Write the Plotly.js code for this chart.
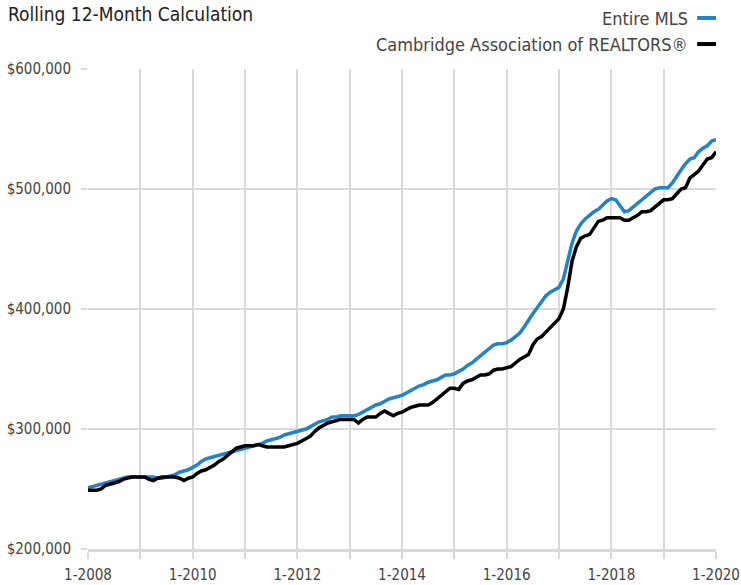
<!DOCTYPE html>
<html>
<head>
<meta charset="utf-8">
<script src="https://cdn.plot.ly/plotly-3.0.1.min.js"></script>
<style>html,body{margin:0;padding:0;background:#fff;}#chart{width:741px;height:585px;}</style>
</head>
<body>
<div id="chart"></div>
<script>
// Monthly, January 2008 .. January 2020 (values in thousands of dollars)
const startYear = 2008;
const seriesNames = ["Entire MLS", "Cambridge Association of REALTORS®"];
const entireMLS = [
  251,252,253,254,255,256,257,258,259,260,260,260,
  260,260,260,260,259,259,260,261,262,264,265,266,
  268,270,273,275,276,277,278,279,280,281,282,283,
  284,285,286,287,288,290,291,292,293,295,296,297,
  298,299,300,302,304,306,307,308,310,310,311,311,
  311,311,312,314,316,318,320,321,323,325,326,327,
  328,330,332,334,336,337,339,340,341,343,345,345,
  346,348,350,353,355,358,361,364,367,370,371,371,
  372,374,377,380,385,391,396,401,406,411,414,416,
  418,425,440,455,465,471,475,478,481,483,487,490,
  492,491,486,481,482,485,488,491,494,497,500,501,
  501,501,505,511,516,521,525,526,531,534,536,540,
  541
];
const cambridge = [
  249,249,249,250,253,254,255,256,258,259,260,260,
  260,260,258,257,259,260,260,260,260,259,257,259,
  260,263,265,266,268,270,273,275,278,281,284,285,
  286,286,286,287,286,285,285,285,285,285,286,287,
  288,290,292,294,298,301,303,305,306,307,308,308,
  308,308,305,308,310,310,310,313,315,313,311,313,
  314,316,318,319,320,320,320,322,325,328,331,334,
  334,333,338,340,341,343,345,345,346,349,350,350,
  351,352,355,358,360,362,370,375,377,381,385,388,
  392,400,418,440,452,459,461,462,468,473,474,476,
  476,476,476,474,474,476,478,481,481,482,485,488,
  491,491,492,496,500,501,509,512,515,520,525,526,
  531
];
const yTickVals = [200000,300000,400000,500000,600000];
const yTickText = ["$200,000","$300,000","$400,000","$500,000","$600,000"];

const months = entireMLS.map((_, i) => i);
const xTickVals = [], xTickText = [];
for (let i = 0; i <= 144; i += 12) {
  xTickVals.push(i);
  const yr = startYear + i / 12;
  xTickText.push(((yr - startYear) % 2 === 0) ? ("1-" + yr) : "");
}
const hoverLabels = months.map(i => (i % 12 + 1) + "-" + (startYear + Math.floor(i / 12)));

const FONT = "'Liberation Sans Narrow', 'Arial Narrow', 'DejaVu Sans Condensed', sans-serif";
const BLUE = "#2383c4";
const GRID = "#d9d9d9";

const traces = [
  {x: months, y: entireMLS.map(v => v * 1000), text: hoverLabels, type: "scatter", mode: "lines",
   name: seriesNames[0], line: {color: BLUE, width: 3.5}, showlegend: false},
  {x: months, y: cambridge.map(v => v * 1000), text: hoverLabels, type: "scatter", mode: "lines",
   name: seriesNames[1], line: {color: "#000000", width: 3.5}, showlegend: false}
];

const layout = {
  width: 741, height: 585,
  margin: {l: 88, r: 25, t: 69, b: 36},
  paper_bgcolor: "#ffffff", plot_bgcolor: "#ffffff",
  font: {family: FONT, size: 15, color: "#444444"},
  xaxis: {
    range: [0, 144], tickvals: xTickVals, ticktext: xTickText,
    showgrid: true, gridcolor: GRID, gridwidth: 2,
    ticks: "outside", ticklen: 7, tickwidth: 2, tickcolor: GRID,
    ticklabelstandoff: 3,
    showline: true, linecolor: GRID, linewidth: 3,
    zeroline: false, tickfont: {family: FONT, size: 15, color: "#444444"}
  },
  yaxis: {
    range: [200000, 600000], tickvals: yTickVals, ticktext: yTickText,
    showgrid: true, gridcolor: GRID, gridwidth: 2,
    ticks: "outside", ticklen: 6, tickwidth: 2, tickcolor: GRID,
    ticklabelstandoff: 7,
    zeroline: false, showline: false,
    tickfont: {family: FONT, size: 15, color: "#444444"}
  },
  annotations: [
    {text: "Rolling 12-Month Calculation", xref: "paper", yref: "paper",
     x: -0.131, y: 1.1146, xanchor: "left", yanchor: "middle", showarrow: false,
     font: {family: FONT, size: 19, color: "#222222"}},
    {text: seriesNames[0], xref: "paper", yref: "paper",
     x: 0.9586, y: 1.10625, xanchor: "right", yanchor: "middle", showarrow: false,
     font: {family: FONT, size: 18, color: "#444444"}},
    {text: seriesNames[1], xref: "paper", yref: "paper",
     x: 0.9586, y: 1.052, xanchor: "right", yanchor: "middle", showarrow: false,
     font: {family: FONT, size: 18, color: "#444444"}}
  ],
  shapes: [
    {type: "line", xref: "paper", yref: "paper", x0: 0.97, x1: 1.0, y0: 1.10625, y1: 1.10625,
     line: {color: BLUE, width: 4}},
    {type: "line", xref: "paper", yref: "paper", x0: 0.97, x1: 1.0, y0: 1.052, y1: 1.052,
     line: {color: "#000000", width: 4}}
  ]
};

Plotly.newPlot("chart", traces, layout, {displayModeBar: false, staticPlot: true});
</script>
</body>
</html>
